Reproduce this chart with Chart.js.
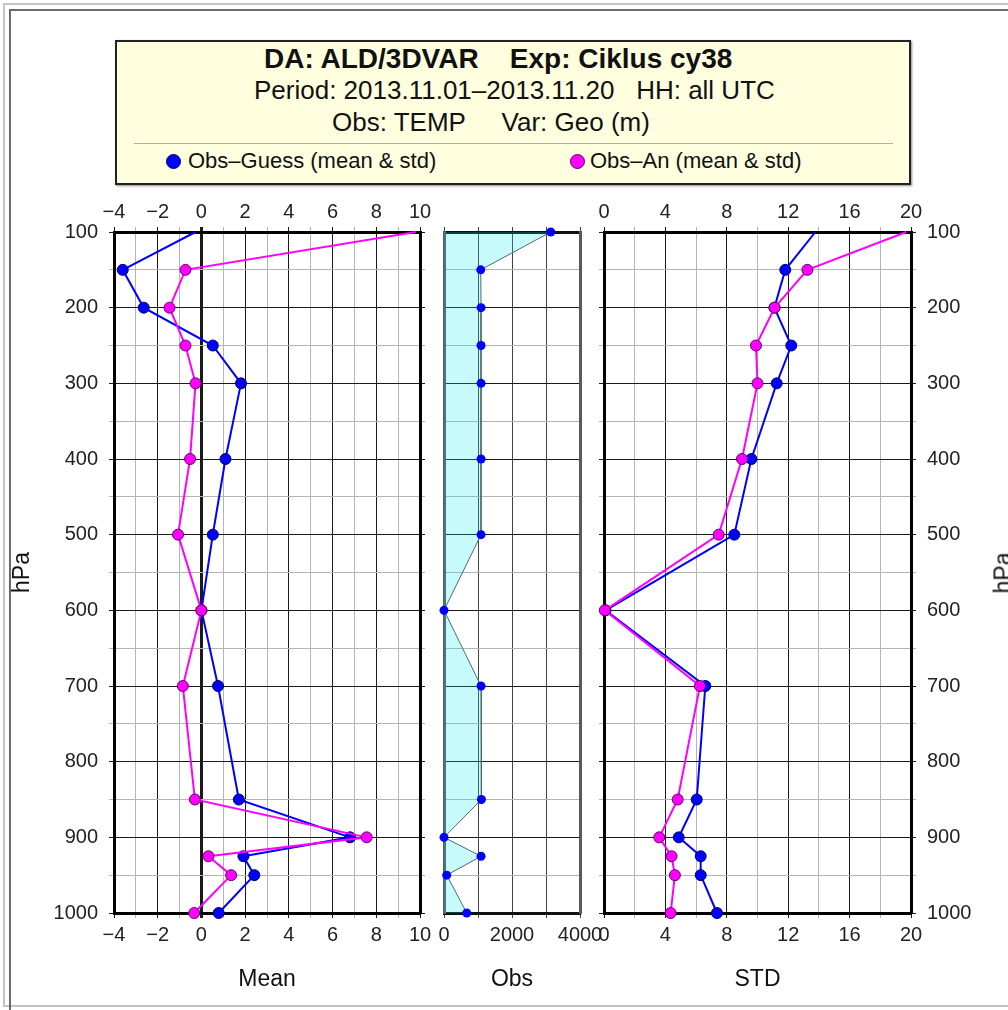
<!DOCTYPE html>
<html>
<head>
<meta charset="utf-8">
<script src="https://cdn.jsdelivr.net/npm/chart.js@4"></script>
<style>
html,body{margin:0;padding:0;width:1008px;height:1010px;overflow:hidden;background:#fff;font-family:'Liberation Sans',Arial,Helvetica,sans-serif;}
canvas{position:absolute;left:0;top:0;}
.frame1{position:absolute;left:3px;top:3px;width:1100px;height:1000px;border:2px solid #c4c4c4;}
.frame2{position:absolute;left:9px;top:9px;width:1100px;height:1100px;border-left:2px solid #6a6a6a;border-top:2px solid #6a6a6a;}
#box{position:absolute;left:115px;top:40px;width:796px;height:145px;box-sizing:border-box;border:2px solid #222;background:#ffffe0;box-shadow:1px 1px 2px rgba(0,0,0,.45);}
.ln{position:absolute;height:30px;line-height:30px;white-space:pre;color:#111;}
.sep{position:absolute;left:17px;top:101px;width:759px;height:0;border-top:1px solid #b0b0a0;}
.dot{position:absolute;width:15px;height:15px;border-radius:50%;box-sizing:border-box;}
#hpaR{position:absolute;left:1003px;top:573px;transform:translate(-50%,-50%) rotate(-90deg);font-size:23px;color:#111;}
</style>
</head>
<body>
<div class="frame1"></div>
<div class="frame2"></div>
<div id="box">
  <div class="ln" style="left:147px;top:2px;font-size:28px;font-weight:bold;">DA: ALD/3DVAR    Exp: Ciklus cy38</div>
  <div class="ln" style="left:137px;top:33px;font-size:26px;">Period: 2013.11.01–2013.11.20   HH: all UTC</div>
  <div class="ln" style="left:215px;top:65px;font-size:26px;">Obs: TEMP     Var: Geo (m)</div>
  <div class="sep"></div>
  <div class="dot" style="left:49px;top:112px;background:#0000ff;border:1px solid #00006a;"></div>
  <div class="ln" style="left:71px;top:104px;font-size:22px;">Obs–Guess (mean &amp; std)</div>
  <div class="dot" style="left:453px;top:112px;background:#ff00ff;border:1px solid #6a006a;"></div>
  <div class="ln" style="left:473px;top:104px;font-size:22px;">Obs–An (mean &amp; std)</div>
</div>
<canvas id="c1" width="1008" height="1010"></canvas>
<canvas id="c2" width="1008" height="1010"></canvas>
<canvas id="c3" width="1008" height="1010"></canvas>
<div id="hpaR">hPa</div>
<script>
// ---- data ----
const levels    = [100, 150, 200, 250, 300, 400, 500, 600, 700, 850, 900, 925, 950, 1000];
const meanGuess = [-0.27, -3.6, -2.64, 0.52, 1.81, 1.1, 0.52, 0.0, 0.76, 1.71, 6.8, 1.92, 2.42, 0.79];
const meanAn    = [9.8, -0.73, -1.46, -0.73, -0.27, -0.52, -1.07, 0.0, -0.85, -0.3, 7.56, 0.32, 1.36, -0.33];
const obsCount  = [3140, 1080, 1090, 1090, 1090, 1090, 1090, 0, 1090, 1100, 0, 1090, 80, 670];
const stdGuess  = [13.77, 11.81, 11.1, 12.2, 11.25, 9.6, 8.49, 0.1, 6.6, 6.04, 4.87, 6.3, 6.3, 7.36];
const stdAn     = [19.7, 13.25, 11.12, 9.9, 10.0, 8.99, 7.47, 0.05, 6.25, 4.8, 3.6, 4.4, 4.62, 4.34];
const pressureRange = [100, 1000];
const meanRange = [-4, 10];
const obsRange  = [0, 4000];
const stdRange  = [0, 20];
const axisTitles = ['Mean', 'Obs', 'STD'];
const yTitle = 'hPa';

// ---- layout / style ----
const W = 1008, H = 1010, TL = 5;
const TOP = 232, BOTTOM = 913, X2H = 42;
const MAJOR = '#1a1a1a', MINOR = '#b4b4b4', TXT = '#222';
Chart.defaults.font.family = "'Liberation Sans', Arial, Helvetica, sans-serif";
Chart.defaults.color = TXT;

const fmt = v => v < 0 ? '\u2212' + Math.abs(v) : String(v);
const near = (v, m) => Math.abs(v / m - Math.round(v / m)) < 1e-9;
const fixH = h => s => { s.height = h; s.paddingLeft = 0; s.paddingRight = 0; };
const fixW = w => s => { s.width = w; s.paddingTop = 0; s.paddingBottom = 0; };
const pts = vals => levels.map((l, i) => ({x: vals[i], y: l}));

function build(id, datasets, P) {
  const xLab = v => near(v, P.xLabel) ? fmt(v) : '';
  const yLab = v => near(v, 100) ? String(v) : '';
  const gx = {
    color: c => (c.tick && !near(c.tick.value, P.xMajor)) ? MINOR : P.xMajorColor,
    lineWidth: c => (P.zero && c.tick && c.tick.value === 0) ? 3 : 1,
    tickLength: TL, drawTicks: true, drawOnChartArea: true
  };
  const gy = {
    color: c => (c.tick && !near(c.tick.value, 100)) ? MINOR : MAJOR,
    lineWidth: 1, tickLength: TL
  };
  const xBase = {type: 'linear', min: P.range[0], max: P.range[1]};
  const yBase = {type: 'linear', min: pressureRange[0], max: pressureRange[1], reverse: true};
  const scales = {
    x: Object.assign({}, xBase, {
      position: 'bottom',
      ticks: {stepSize: P.xStep, autoSkip: false, maxRotation: 0, padding: 5, font: {size: 20}, color: TXT, callback: xLab},
      grid: gx,
      border: {display: true, width: 3, color: P.bH},
      title: {display: true, text: P.title, font: {size: 23}, color: '#111', padding: {top: 0, bottom: 17}},
      afterFit: fixH(H - BOTTOM)
    }),
    x2: Object.assign({}, xBase, {
      axis: 'x', position: 'top',
      ticks: {stepSize: P.xStep, autoSkip: false, maxRotation: 0, padding: 3, font: {size: 20}, color: TXT,
              display: P.topLabels, callback: xLab},
      grid: Object.assign({}, gx, {drawOnChartArea: false}),
      border: {display: true, width: 3, color: P.bTop},
      afterFit: fixH(X2H)
    }),
    y: Object.assign({}, yBase, {
      position: 'left',
      ticks: {stepSize: 50, autoSkip: false, padding: 11, font: {size: 20}, color: TXT, display: P.yLeftLabels, callback: yLab},
      grid: Object.assign({}, gy, {drawTicks: P.yLeftTicks}),
      border: {display: true, width: 3, color: P.bV},
      title: P.yTitle ? {display: true, text: yTitle, font: {size: 23}, color: '#111', padding: {top: 9, bottom: 0}} : {display: false},
      afterFit: fixW(P.yLeftW)
    }),
    y2: Object.assign({}, yBase, {
      axis: 'y', position: 'right',
      ticks: {stepSize: 50, autoSkip: false, padding: 11, font: {size: 20}, color: TXT, display: P.yRightLabels, callback: yLab},
      grid: Object.assign({}, gy, {drawOnChartArea: false, drawTicks: P.yRightTicks}),
      border: {display: true, width: 3, color: P.bV},
      afterFit: fixW(P.yRightW)
    })
  };
  return new Chart(document.getElementById(id), {
    type: 'line',
    data: {datasets},
    options: {
      indexAxis: 'y',
      responsive: false, animation: false, events: [],
      layout: {padding: {left: P.left - P.yLeftW, right: W - P.right - P.yRightW, top: TOP - X2H, bottom: 0}},
      plugins: {legend: {display: false}, tooltip: {enabled: false}},
      scales
    }
  });
}

function profile(label, vals, color, edge, order) {
  return {
    label, data: pts(vals), order,
    borderColor: color, borderWidth: 2, backgroundColor: color,
    pointBackgroundColor: color, pointBorderColor: edge, pointBorderWidth: 1,
    pointRadius: levels.map((l, i) => i === 0 ? 0 : 5.5),
    fill: false, clip: false, tension: 0
  };
}

build('c1', [
  profile('Obs-An', meanAn, '#ff00ff', '#6a006a', 0),
  profile('Obs-Guess', meanGuess, '#0000ff', '#00006a', 1)
], {range: meanRange, xStep: 1, xLabel: 2, xMajor: 2, xMajorColor: MAJOR, zero: true, title: axisTitles[0],
    topLabels: true, left: 114, right: 420, yLeftW: 114, yRightW: TL, yLeftLabels: true, yLeftTicks: true,
    yRightLabels: false, yRightTicks: true, yTitle: true, bH: '#000', bTop: '#000', bV: '#000'});

build('c2', [{
  label: 'Obs', data: pts(obsCount), borderColor: '#4f6a6a', borderWidth: 1,
  backgroundColor: 'rgba(0,232,232,0.22)', fill: 'origin',
  pointBackgroundColor: '#0000ff', pointBorderColor: '#0000ff', pointBorderWidth: 0, pointRadius: 4.5,
  clip: false, tension: 0
}], {range: obsRange, xStep: 1000, xLabel: 2000, xMajor: 1000, xMajorColor: '#444', zero: false, title: axisTitles[1],
    topLabels: false, left: 444, right: 580, yLeftW: 0, yRightW: 0, yLeftLabels: false, yLeftTicks: false,
    yRightLabels: false, yRightTicks: false, yTitle: false, bH: '#111', bTop: '#111', bV: '#5a5a5a'});

build('c3', [
  profile('Obs-An', stdAn, '#ff00ff', '#6a006a', 0),
  profile('Obs-Guess', stdGuess, '#0000ff', '#00006a', 1)
], {range: stdRange, xStep: 2, xLabel: 4, xMajor: 4, xMajorColor: MAJOR, zero: false, title: axisTitles[2],
    topLabels: true, left: 604, right: 911, yLeftW: TL, yRightW: W - 911, yLeftLabels: false, yLeftTicks: true,
    yRightLabels: true, yRightTicks: true, yTitle: false, bH: '#000', bTop: '#000', bV: '#000'});
</script>
</body>
</html>
